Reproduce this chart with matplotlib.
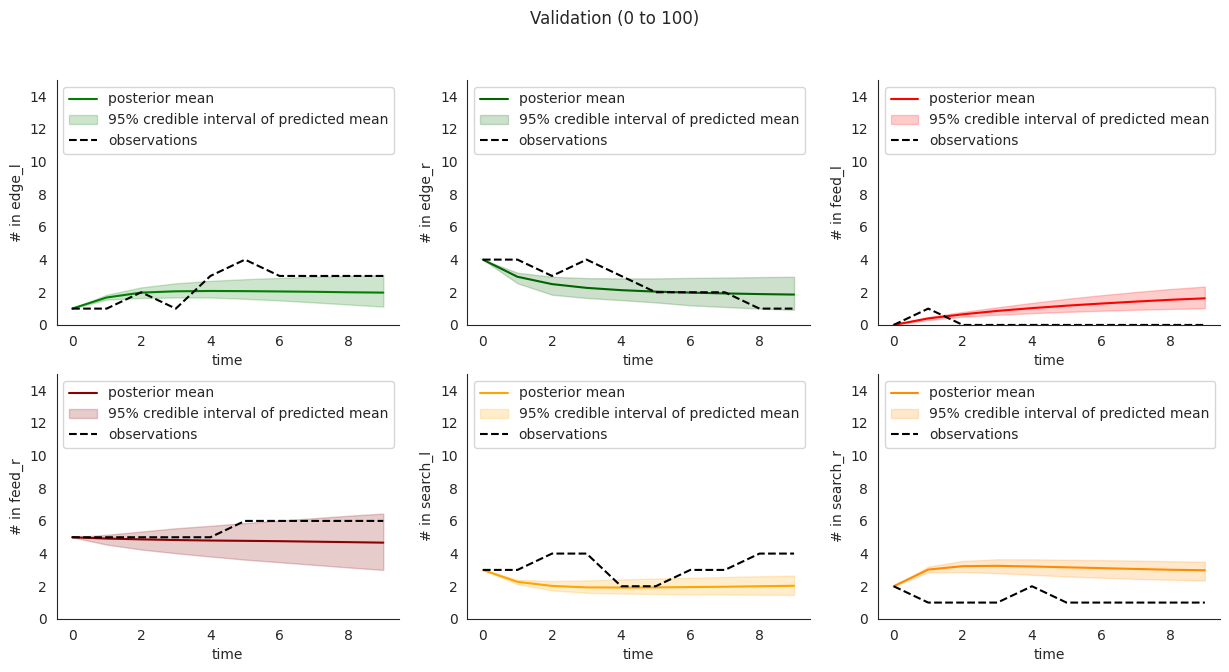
import matplotlib
matplotlib.use("Agg")
import matplotlib.pyplot as plt
import seaborn as sns
import numpy as np

sns.set_style("white")

time = np.arange(10)

# compartments, in plotting order
names = ["edge_l", "edge_r", "feed_l", "feed_r", "search_l", "search_r"]
colours = ["green", "darkgreen", "red", "darkred", "orange", "darkorange"]

edge_l_mean = [1.0, 1.68, 1.98, 2.06, 2.08, 2.07, 2.05, 2.03, 2.0, 1.98]
edge_l_low = [1.0, 1.55, 1.65, 1.68, 1.68, 1.6, 1.5, 1.38, 1.25, 1.12]
edge_l_high = [1.0, 1.85, 2.3, 2.55, 2.7, 2.8, 2.88, 2.95, 3.0, 3.05]
edge_l_obs = [1, 1, 2, 1, 3, 4, 3, 3, 3, 3]

edge_r_mean = [4.0, 2.95, 2.5, 2.27, 2.13, 2.04, 1.98, 1.93, 1.89, 1.86]
edge_r_low = [4.0, 2.55, 1.85, 1.65, 1.52, 1.38, 1.2, 1.1, 1.0, 0.93]
edge_r_high = [4.0, 3.2, 2.95, 2.87, 2.85, 2.85, 2.88, 2.9, 2.93, 2.95]
edge_r_obs = [4, 4, 3, 4, 3, 2, 2, 2, 1, 1]

feed_l_mean = [0.0, 0.4, 0.65, 0.86, 1.03, 1.18, 1.31, 1.43, 1.54, 1.63]
feed_l_low = [0.0, 0.3, 0.5, 0.62, 0.72, 0.8, 0.87, 0.93, 0.98, 1.02]
feed_l_high = [0.0, 0.48, 0.8, 1.08, 1.35, 1.6, 1.82, 2.02, 2.2, 2.35]
feed_l_obs = [0, 1, 0, 0, 0, 0, 0, 0, 0, 0]

feed_r_mean = [5.0, 4.92, 4.87, 4.83, 4.8, 4.78, 4.76, 4.73, 4.7, 4.67]
feed_r_low = [5.0, 4.55, 4.25, 4.02, 3.82, 3.63, 3.47, 3.31, 3.15, 3.0]
feed_r_high = [5.0, 5.15, 5.35, 5.55, 5.7, 5.87, 6.02, 6.17, 6.32, 6.45]
feed_r_obs = [5, 5, 5, 5, 5, 6, 6, 6, 6, 6]

search_l_mean = [3.0, 2.27, 2.02, 1.93, 1.92, 1.93, 1.95, 1.97, 2.0, 2.03]
search_l_low = [3.0, 2.12, 1.75, 1.6, 1.55, 1.52, 1.5, 1.49, 1.48, 1.47]
search_l_high = [3.0, 2.4, 2.32, 2.36, 2.42, 2.47, 2.52, 2.57, 2.61, 2.65]
search_l_obs = [3, 3, 4, 4, 2, 2, 3, 3, 4, 4]

search_r_mean = [2.0, 3.02, 3.23, 3.25, 3.21, 3.16, 3.11, 3.06, 3.01, 2.98]
search_r_low = [2.0, 2.85, 2.87, 2.8, 2.7, 2.6, 2.52, 2.45, 2.4, 2.35]
search_r_high = [2.0, 3.2, 3.55, 3.65, 3.65, 3.62, 3.6, 3.57, 3.53, 3.5]
search_r_obs = [2, 1, 1, 1, 2, 1, 1, 1, 1, 1]

means = [edge_l_mean, edge_r_mean, feed_l_mean, feed_r_mean, search_l_mean, search_r_mean]
lows = [edge_l_low, edge_r_low, feed_l_low, feed_r_low, search_l_low, search_r_low]
highs = [edge_l_high, edge_r_high, feed_l_high, feed_r_high, search_l_high, search_r_high]
observations = [edge_l_obs, edge_r_obs, feed_l_obs, feed_r_obs, search_l_obs, search_r_obs]

fig, axes = plt.subplots(2, 3, figsize=(12.29, 6.72), dpi=100)
fig.subplots_adjust(left=0.046, right=0.993, bottom=0.079, top=0.881, wspace=0.2, hspace=0.2)

for i, ax in enumerate(axes.flat):
    ax.plot(time, means[i], color=colours[i], label="posterior mean")
    ax.fill_between(time, lows[i], highs[i], color=colours[i], alpha=0.2,
                    label="95% credible interval of predicted mean")
    ax.plot(time, observations[i], "k--", label="observations")
    ax.set_ylim(0, 15)
    ax.set_yticks(np.arange(0, 15, 2))
    ax.set_xlabel("time")
    ax.set_ylabel("# in " + names[i])
    ax.legend(loc="upper left")

sns.despine()
fig.suptitle("Validation (0 to 100)", y=0.985)
fig.savefig("out.png")
